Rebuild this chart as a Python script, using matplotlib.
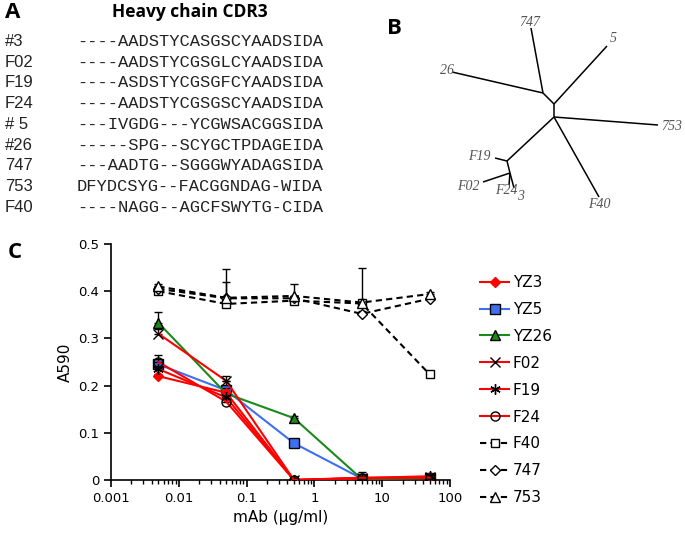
import matplotlib
matplotlib.use("Agg")
import matplotlib.pyplot as plt

# ---------------- Panel A data ----------------
clone_names = ["#3", "F02", "F19", "F24", "# 5", "#26", "747", "753", "F40"]
cdr3_seqs = [
    "----AADSTYCASGSCYAADSIDA",
    "----AADSTYCGSGLCYAADSIDA",
    "----ASDSTYCGSGFCYAADSIDA",
    "----AADSTYCGSGSCYAADSIDA",
    "---IVGDG---YCGWSACGGSIDA",
    "-----SPG--SCYGCTPDAGEIDA",
    "---AADTG--SGGGWYADAGSIDA",
    "DFYDCSYG--FACGGNDAG-WIDA",
    "----NAGG--AGCFSWYTG-CIDA",
]

# ---------------- Panel B data (tree layout, px) ----------------
tree_nodes = {
    "n1": (543, 93), "n2": (554, 104), "n3": (554, 117), "n4": (507, 161), "n5": (510, 173),
    "747": (531, 28), "26": (452, 72), "5": (607, 46), "753": (658, 125), "F40": (599, 197),
    "F19": (495, 158), "F02": (483, 182), "F24": (509, 185), "3": (514, 188),
}
tree_edges = [("n1", "747"), ("n1", "26"), ("n1", "n2"), ("n2", "5"), ("n2", "n3"),
              ("n3", "753"), ("n3", "F40"), ("n3", "n4"), ("n4", "F19"), ("n4", "n5"),
              ("n5", "F02"), ("n5", "F24"), ("n5", "3")]
tree_labels = {"747": (530, 22), "5": (613, 38), "26": (447, 71), "753": (672, 126),
               "F40": (599, 205), "F19": (479, 157), "F02": (468, 187), "F24": (506, 191),
               "3": (521, 197)}

# ---------------- Panel C data ----------------
conc = [0.005, 0.05, 0.5, 5, 50]
YZ3 = [0.22, 0.185, 0.0, 0.003, 0.006]
YZ5 = [0.245, 0.19, 0.078, 0.003, 0.005]
YZ26 = [0.333, 0.183, 0.131, 0.002, 0.004]
F02 = [0.31, 0.21, 0.0, 0.004, 0.006]
F19 = [0.235, 0.175, 0.0, 0.004, 0.008]
F24 = [0.25, 0.166, 0.0, 0.005, 0.005]
F40 = [0.40, 0.373, 0.38, 0.374, 0.224]
S747 = [0.405, 0.385, 0.385, 0.352, 0.384]
S753 = [0.41, 0.386, 0.39, 0.376, 0.394]

err_YZ3 = [0.005, 0.01, 0.002, 0.003, 0.003]
err_YZ5 = [0.01, 0.02, 0.004, 0.003, 0.003]
err_YZ26 = [0.022, 0.01, 0.004, 0.015, 0.003]
err_F02 = [0.01, 0.01, 0.002, 0.003, 0.003]
err_F19 = [0.005, 0.01, 0.002, 0.003, 0.003]
err_F24 = [0.015, 0.01, 0.002, 0.003, 0.003]
err_F40 = [0.005, 0.005, 0.005, 0.075, 0.005]
err_747 = [0.005, 0.035, 0.005, 0.005, 0.005]
err_753 = [0.005, 0.06, 0.025, 0.005, 0.005]

series = [
    ("YZ3", YZ3, err_YZ3, "#ff0000", "-", "D", "#ff0000", "#ff0000", 5.5, 5),
    ("YZ5", YZ5, err_YZ5, "#3d6ff0", "-", "s", "#3d6ff0", "black", 6.5, 3),
    ("YZ26", YZ26, err_YZ26, "#1a8a1a", "-", "^", "#1a8a1a", "black", 7, 3),
    ("F02", F02, err_F02, "#ff0000", "-", "x", "none", "black", 6.5, 5),
    ("F19", F19, err_F19, "#ff0000", "-", (6, 2, 0), "none", "black", 7.5, 5),
    ("F24", F24, err_F24, "#ff0000", "-", "o", "none", "black", 6.5, 5),
    ("F40", F40, err_F40, "black", (0, (3, 2)), "s", "white", "black", 6, 6),
    ("747", S747, err_747, "black", (0, (3, 2)), "D", "white", "black", 5.5, 6),
    ("753", S753, err_753, "black", (0, (3, 2)), "^", "white", "black", 7, 6),
]

plt.rcParams["font.family"] = ["DejaVu Sans"]
fig = plt.figure(figsize=(6.85, 5.37), dpi=100)

# background axes in pixel coordinates for panels A and B
bg = fig.add_axes([0, 0, 1, 1])
bg.set_xlim(0, 685)
bg.set_ylim(537, 0)
bg.axis("off")

# Panel letters
bg.text(5, 13, "A", fontsize=16, fontweight="bold", family="Open Sans", va="center", ha="left")
bg.text(387, 28, "B", fontsize=16, fontweight="bold", family="Open Sans", va="center", ha="left")
bg.text(8, 253, "C", fontsize=16, fontweight="bold", family="Open Sans", va="center", ha="left")

bg.text(190, 12, "Heavy chain CDR3", fontsize=12.5, fontweight="bold", family="Open Sans",
        va="center", ha="center")

row0, dy = 41.5, 20.7
for i, (nm, sq) in enumerate(zip(clone_names, cdr3_seqs)):
    y = row0 + i * dy
    bg.text(5, y, nm, fontsize=12, family="Liberation Sans", va="center", ha="left", color="#222222")
    bg.text(77, y, sq, fontsize=12.3, family="Liberation Mono", va="center", ha="left", color="#222222")

# tree
for a, b in tree_edges:
    xa, ya = tree_nodes[a]
    xb, yb = tree_nodes[b]
    bg.plot([xa, xb], [ya, yb], color="black", lw=1.1, solid_capstyle="butt")
for lab, (lx, ly) in tree_labels.items():
    bg.text(lx, ly, lab, fontsize=10, family="Liberation Serif", style="italic",
            color="#555555", ha="center", va="center")

# Panel C
ax = fig.add_axes([111 / 685, 1 - 480 / 537, 339 / 685, 236 / 537])
for k, (lab, vals, err, col, ls, mk, mfc, mec, ms, z) in enumerate(series):
    ax.errorbar(conc, vals, yerr=[[0] * len(err), err], fmt="none", ecolor="black",
                elinewidth=1, capsize=3, capthick=1, zorder=z - 0.5)
    ax.plot(conc, vals, color=col, linestyle=ls, lw=1.5, marker=mk, markerfacecolor=mfc,
            markeredgecolor=mec, markersize=ms, markeredgewidth=1, label=lab, zorder=z)

ax.set_xscale("log")
ax.set_xlim(0.001, 100)
ax.set_ylim(0, 0.5)
ax.set_yticks([0, 0.1, 0.2, 0.3, 0.4, 0.5])
ax.set_yticklabels(["0", "0.1", "0.2", "0.3", "0.4", "0.5"])
ax.set_xticks([0.001, 0.01, 0.1, 1, 10, 100])
ax.set_xticklabels(["0.001", "0.01", "0.1", "1", "10", "100"])
for s in ["top", "right"]:
    ax.spines[s].set_visible(False)
for s in ["left", "bottom"]:
    ax.spines[s].set_linewidth(1.2)
ax.tick_params(axis="both", which="major", direction="out", length=5, width=1.2, labelsize=9.5,
               colors="black")
ax.tick_params(axis="x", which="minor", direction="out", length=3, width=1)
ax.set_xlabel("mAb (µg/ml)", fontsize=11)
ax.set_ylabel("A590", fontsize=11)
ax.patch.set_alpha(0)

handles, labels = ax.get_legend_handles_labels()
fig.legend(handles, labels, loc="upper left", bbox_to_anchor=(480 / 685, 1 - 275 / 537),
           frameon=False, fontsize=11, handlelength=1.9, handletextpad=0.25,
           labelspacing=0.78, borderpad=0, borderaxespad=0)

fig.savefig("out.png", dpi=100)
